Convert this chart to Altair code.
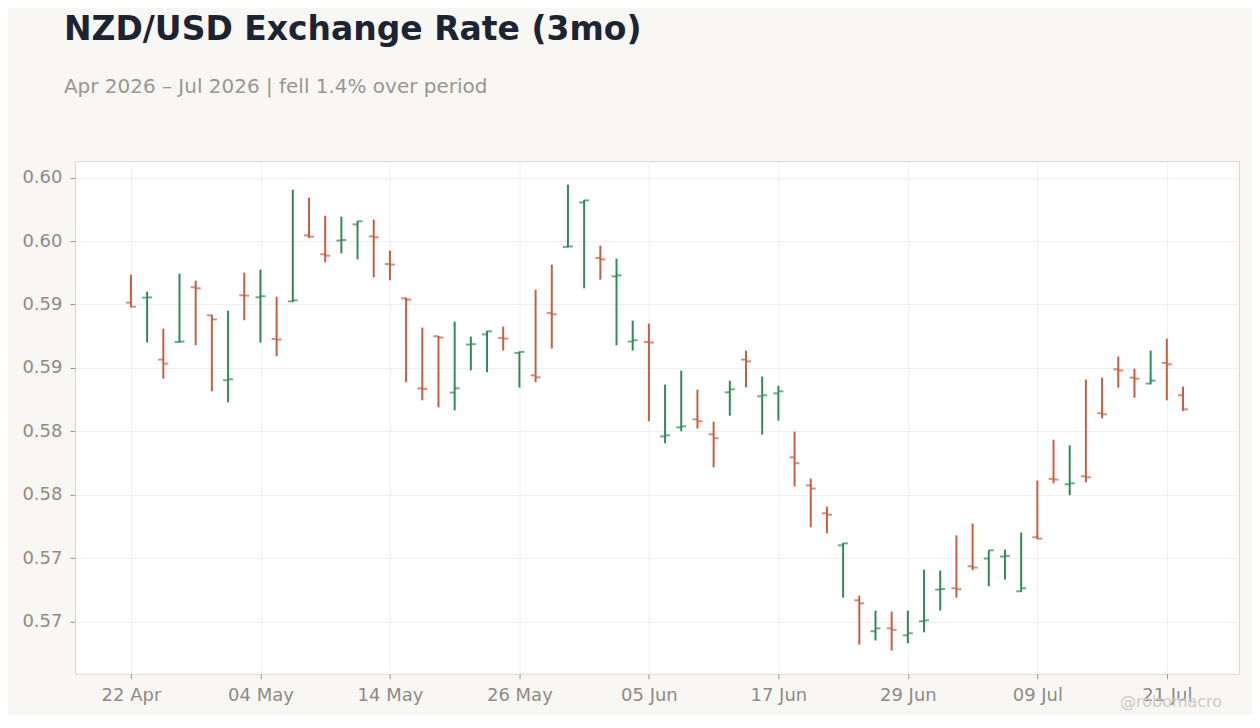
import json

import altair as alt
import pandas as pd

# NZD/USD daily OHLC, 22 Apr - 22 Jul 2026 (weekdays)
dates = pd.bdate_range("2026-04-22", "2026-07-22")

opens = [
    0.59515, 0.59554, 0.59066, 0.59205, 0.59636, 0.59415, 0.58903, 0.59573, 0.59557, 0.59228,
    0.59525, 0.60045, 0.59896, 0.60004, 0.60132, 0.60037, 0.59819, 0.59549, 0.58839, 0.59250,
    0.58806, 0.59184, 0.59265, 0.59236, 0.59119, 0.58942, 0.59434, 0.59954, 0.60305, 0.59867,
    0.59722, 0.59208, 0.59205, 0.58461, 0.58532, 0.58595, 0.58477, 0.58808, 0.59066, 0.58777,
    0.58800, 0.58296, 0.58075, 0.57855, 0.57602, 0.57169, 0.56925, 0.56948, 0.56893, 0.57004,
    0.57253, 0.57264, 0.57437, 0.57498, 0.57514, 0.57240, 0.57666, 0.58126, 0.58083, 0.58146,
    0.58643, 0.58989, 0.58924, 0.58877, 0.59040, 0.58785,
]
highs = [
    0.59735, 0.59602, 0.59310, 0.59744, 0.59688, 0.59420, 0.59452, 0.59751, 0.59775, 0.59562,
    0.60405, 0.60342, 0.60200, 0.60193, 0.60159, 0.60169, 0.59925, 0.59554, 0.59318, 0.59253,
    0.59365, 0.59247, 0.59292, 0.59326, 0.59129, 0.59617, 0.59814, 0.60445, 0.60324, 0.59964,
    0.59862, 0.59373, 0.59350, 0.58869, 0.58979, 0.58829, 0.58577, 0.58900, 0.59137, 0.58932,
    0.58859, 0.58498, 0.58128, 0.57907, 0.57621, 0.57206, 0.57088, 0.57080, 0.57088, 0.57411,
    0.57403, 0.57681, 0.57774, 0.57563, 0.57569, 0.57703, 0.58112, 0.58435, 0.58390, 0.58908,
    0.58924, 0.59090, 0.58995, 0.59137, 0.59231, 0.58853,
]
lows = [
    0.59480, 0.59200, 0.58916, 0.59200, 0.59179, 0.58816, 0.58729, 0.59376, 0.59200, 0.59092,
    0.59520, 0.60025, 0.59833, 0.59903, 0.59856, 0.59714, 0.59691, 0.58887, 0.58745, 0.58690,
    0.58666, 0.58981, 0.58966, 0.59137, 0.58845, 0.58887, 0.59153, 0.59951, 0.59628, 0.59696,
    0.59179, 0.59137, 0.58580, 0.58406, 0.58501, 0.58524, 0.58217, 0.58624, 0.58848, 0.58475,
    0.58585, 0.58067, 0.57744, 0.57697, 0.57190, 0.56820, 0.56852, 0.56773, 0.56830, 0.56917,
    0.57088, 0.57190, 0.57406, 0.57280, 0.57332, 0.57235, 0.57650, 0.58091, 0.57997, 0.58099,
    0.58603, 0.58845, 0.58766, 0.58871, 0.58745, 0.58662,
]
closes = [
    0.59483, 0.59556, 0.59034, 0.59208, 0.59628, 0.59383, 0.58911, 0.59570, 0.59565, 0.59224,
    0.59533, 0.60035, 0.59885, 0.60008, 0.60156, 0.60030, 0.59815, 0.59539, 0.58835, 0.59240,
    0.58840, 0.59188, 0.59289, 0.59232, 0.59127, 0.58926, 0.59423, 0.59958, 0.60321, 0.59856,
    0.59730, 0.59218, 0.59200, 0.58469, 0.58540, 0.58580, 0.58446, 0.58832, 0.59052, 0.58785,
    0.58816, 0.58249, 0.58049, 0.57844, 0.57618, 0.57145, 0.56948, 0.56936, 0.56909, 0.57011,
    0.57258, 0.57256, 0.57427, 0.57563, 0.57518, 0.57264, 0.57655, 0.58120, 0.58091, 0.58138,
    0.58635, 0.58981, 0.58916, 0.58900, 0.59029, 0.58674,
]

y_ticks = [0.570, 0.575, 0.580, 0.585, 0.590, 0.595, 0.600, 0.605]

days = list(dates.strftime("%d %b"))
df = pd.DataFrame({
    "i": range(len(days)),
    "open": opens,
    "high": highs,
    "low": lows,
    "close": closes,
})
x_ticks = list(range(0, len(days), 8))

UP = "#2e8b57"
DOWN = "#cc5c3d"

# trading-day index on x, labelled with the dates
x_enc = alt.X(
    "i:Q",
    title=None,
    scale=alt.Scale(domain=[-3.46, len(days) - 1 + 3.46], nice=False, zero=False),
    axis=alt.Axis(values=x_ticks, labelExpr=json.dumps(days) + "[datum.value]", grid=True),
)
color_enc = alt.Color(
    "dir:N",
    scale=alt.Scale(domain=["up", "down"], range=[UP, DOWN]),
    legend=None,
)
y_scale = alt.Scale(domain=[0.5659, 0.6063], zero=False, nice=False)

base = alt.Chart(df).transform_calculate(
    dir="datum.close >= datum.open ? 'up' : 'down'"
)

wicks = base.mark_rule(strokeWidth=2).encode(
    x=x_enc,
    y=alt.Y("low:Q", scale=y_scale, title=None,
            axis=alt.Axis(values=y_ticks, format=".2f")),
    y2="high:Q",
    color=color_enc,
)

open_tick = base.mark_tick(orient="horizontal", size=5, thickness=2, xOffset=-2.5).encode(
    x=x_enc, y=alt.Y("open:Q", scale=y_scale), color=color_enc
)
close_tick = base.mark_tick(orient="horizontal", size=5, thickness=2, xOffset=2.5).encode(
    x=x_enc, y=alt.Y("close:Q", scale=y_scale), color=color_enc
)

watermark = alt.Chart(pd.DataFrame({"t": ["@robomacro"]})).mark_text(
    align="right", baseline="middle", fontSize=16, color="#cfcac4", font="DejaVu Sans"
).encode(text="t:N", x=alt.value(1148), y=alt.value(541))

chart = (
    alt.layer(wicks, open_tick, close_tick, watermark)
    .properties(
        width=1165,
        height=513,
        background="#f9f7f4",
        padding={"left": 13, "top": 6, "right": 13, "bottom": 5},
        title=alt.Title(
            "NZD/USD Exchange Rate (3mo)",
            subtitle="Apr 2026 \u2013 Jul 2026 | fell 1.4% over period",
            anchor="start",
            frame="group",
            dx=-11,
            font="DejaVu Sans",
            fontSize=33,
            fontWeight="bold",
            color="#1b2433",
            subtitleFont="DejaVu Sans",
            subtitleFontSize=20,
            subtitleColor="#9a9590",
            subtitlePadding=30,
            offset=64,
        ),
    )
    .configure_view(fill="white", stroke="#ddd6cc", strokeWidth=1)
    .configure_axis(
        labelFont="DejaVu Sans",
        labelFontSize=18,
        labelColor="#8f8a84",
        tickColor="#9a9590",
        tickSize=5,
        labelPadding=8,
        domain=False,
        gridColor="#efefef",
        gridWidth=1,
    )
)

chart.save("out.html", embed_options={"renderer": "svg", "actions": False})
